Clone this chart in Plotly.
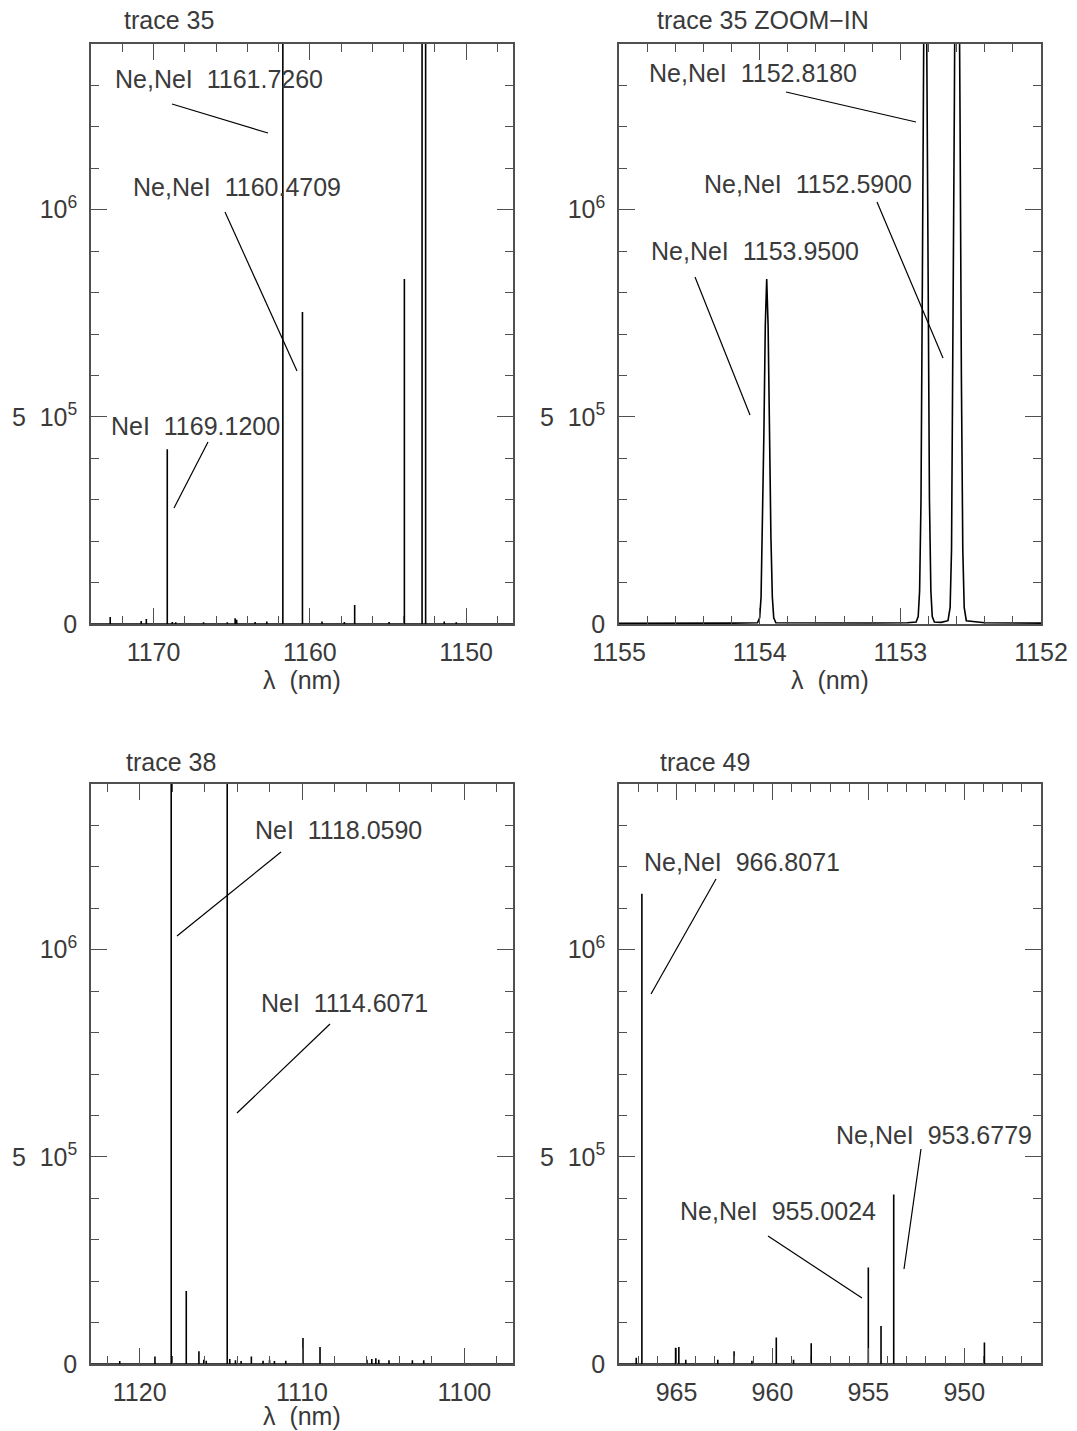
import plotly.graph_objects as go

W, H = 1077, 1431

# ---------------- line lists (wavelength in nm, counts) ----------------
# trace 35, full order
t35_wl = [1172.77, 1170.79, 1170.46, 1169.12, 1168.80, 1168.58, 1166.80, 1165.28,
          1164.78, 1164.68, 1163.50, 1162.75, 1161.726, 1160.4709, 1159.22, 1157.79,
          1157.13, 1154.93, 1153.95, 1152.818, 1152.59, 1151.40, 1150.63]
t35_flux = [1.7e4, 7e3, 1.2e4, 4.22e5, 5e3, 4e3, 4e3, 4e3,
            1.4e4, 1.0e4, 5e3, 6e3, 2.6e6, 7.53e5, 6e3, 5e3,
            4.6e4, 5e3, 8.33e5, 1.7e6, 2.35e6, 6e3, 4e3]

# trace 35, zoom on the 1152-1155 nm region (sampled line profiles)
zoom_wl = [1155.00, 1154.60, 1154.20, 1154.015, 1154.00, 1153.99, 1153.98, 1153.97,
           1153.96, 1153.95, 1153.94, 1153.93, 1153.92, 1153.91, 1153.90, 1153.885,
           1153.60, 1153.20, 1152.95, 1152.888, 1152.873, 1152.863, 1152.853, 1152.843,
           1152.833, 1152.823, 1152.813, 1152.803, 1152.793, 1152.783, 1152.773,
           1152.758, 1152.71, 1152.661, 1152.646, 1152.636, 1152.626, 1152.616,
           1152.606, 1152.596, 1152.586, 1152.576, 1152.566, 1152.556, 1152.546,
           1152.531, 1152.40, 1152.20, 1152.00]
zoom_flux = [1.5e3, 1.5e3, 2e3, 3e3, 1.5e4, 6.5e4, 2.1e5, 4.6e5,
             7.2e5, 8.33e5, 7.2e5, 4.6e5, 2.1e5, 6.5e4, 1.5e4, 3e3,
             2e3, 2.5e3, 3e3, 5e3, 1.8e4, 8e4, 3.0e5, 8.5e5,
             1.45e6, 1.7e6, 1.45e6, 8.5e5, 3.0e5, 8e4, 1.8e4,
             5e3, 4e3, 8e3, 4e4, 1.8e5, 6.0e5, 1.25e6,
             1.9e6, 2.35e6, 1.9e6, 1.25e6, 6.0e5, 1.8e5, 4e4,
             8e3, 3e3, 2.5e3, 2e3]

# trace 38
t38_wl = [1121.23, 1119.06, 1118.059, 1117.13, 1116.35, 1116.05, 1115.90, 1114.6071,
          1114.45, 1114.10, 1113.75, 1113.12, 1112.40, 1112.00, 1111.70, 1111.00,
          1109.94, 1108.89, 1106.00, 1105.70, 1105.45, 1105.27, 1104.64, 1103.20, 1102.50]
t38_flux = [7e3, 1.8e4, 2.8e6, 1.76e5, 3.1e4, 1e4, 8e3, 2.6e6,
            1.2e4, 9e3, 7e3, 1.8e4, 8e3, 1e4, 7e3, 8e3,
            6.3e4, 4.1e4, 1e4, 1.2e4, 1.4e4, 1e4, 9e3, 9e3, 9e3]

# trace 49
t49_wl = [967.10, 966.8071, 965.05, 964.88, 964.52, 962.85, 962.00, 961.07,
          959.80, 958.90, 957.98, 955.0024, 954.34, 953.6779, 948.95]
t49_flux = [1.5e4, 1.135e6, 3.9e4, 4.1e4, 1e4, 1e4, 3.1e4, 8e3,
            6.4e4, 1e4, 5e4, 2.33e5, 9.2e4, 4.09e5, 5.2e4]

# axis ranges (nm)
t35_range = [1174, 1147]
zoom_range = [1155, 1152]
t38_range = [1123, 1097]
t49_range = [968, 946]

y_tickvals = [0, 5e5, 1e6]
y_ticktext = ["0", "5\u00a0\u00a010<sup>5</sup>", "10<sup>6</sup>"]

FONT = "Liberation Sans"
TXT = "#3a3a3a"
AX = "#505050"


def spikes(wl, fl, rng):
    """Emission lines as vertical strokes on a zero baseline."""
    lo, hi = min(rng), max(rng)
    xs, ys = [lo], [0.0]
    for w, f in sorted(zip(wl, fl)):
        xs += [w, w, w]
        ys += [0.0, f, 0.0]
    xs.append(hi)
    ys.append(0.0)
    return xs, ys


def px(x):
    return x / W


def py(y):
    return 1 - y / H


fig = go.Figure()

panels = [
    dict(xs=spikes(t35_wl, t35_flux, t35_range), ax="x", ay="y",
         xd=(91, 513), yd=(44, 624), rng=t35_range, t0=1150, dt=10, mdt=2),
    dict(xs=(sorted(zoom_wl), [f for _, f in sorted(zip(zoom_wl, zoom_flux))]),
         ax="x2", ay="y2", xd=(619, 1041), yd=(44, 624), rng=zoom_range,
         t0=1152, dt=1, mdt=0.2),
    dict(xs=spikes(t38_wl, t38_flux, t38_range), ax="x3", ay="y3",
         xd=(91, 513), yd=(784, 1364), rng=t38_range, t0=1100, dt=10, mdt=2),
    dict(xs=spikes(t49_wl, t49_flux, t49_range), ax="x4", ay="y4",
         xd=(619, 1041), yd=(784, 1364), rng=t49_range, t0=950, dt=5, mdt=1),
]

axis_common = dict(
    showline=True, linecolor=AX, linewidth=1.5, mirror="allticks",
    ticks="inside", ticklen=16, tickwidth=1.4, tickcolor=AX,
    showgrid=False, zeroline=False, automargin=False,
    tickfont=dict(family=FONT, size=25, color=TXT),
)

layout_axes = {}
for i, p in enumerate(panels):
    x, y = p["xs"]
    fig.add_trace(go.Scatter(x=x, y=y, mode="lines", xaxis=p["ax"], yaxis=p["ay"],
                             line=dict(color="black", width=1.6),
                             hoverinfo="skip", showlegend=False))
    sfx = "" if i == 0 else str(i + 1)
    layout_axes["xaxis" + sfx] = dict(
        axis_common,
        domain=[px(p["xd"][0]), px(p["xd"][1])],
        anchor="y" + sfx,
        range=p["rng"], autorange=False,
        tickmode="linear", tick0=p["t0"], dtick=p["dt"],
        ticklabelstandoff=5,
        minor=dict(ticks="inside", ticklen=8, tickwidth=1.4, tickcolor=AX,
                   tick0=p["t0"], dtick=p["mdt"], showgrid=False),
    )
    layout_axes["yaxis" + sfx] = dict(
        axis_common,
        domain=[py(p["yd"][1]), py(p["yd"][0])],
        anchor="x" + sfx,
        range=[0, 1.4e6], autorange=False,
        tickmode="array", tickvals=y_tickvals, ticktext=y_ticktext,
        ticklabelstandoff=7,
        minor=dict(ticks="inside", ticklen=8, tickwidth=1.4, tickcolor=AX,
                   tickmode="linear", tick0=0, dtick=1e5, showgrid=False),
    )

annotations = []
shapes = []


def label(text, x, y, anchor="left"):
    annotations.append(dict(text=text, x=px(x), y=py(y), xref="paper", yref="paper",
                            xanchor=anchor, yanchor="middle", showarrow=False,
                            font=dict(family=FONT, size=25, color=TXT)))


def leader(x0, y0, x1, y1):
    shapes.append(dict(type="line", xref="paper", yref="paper",
                       x0=px(x0), y0=py(y0), x1=px(x1), y1=py(y1),
                       line=dict(color="black", width=1.2)))


NB = "\u00a0\u00a0"

# panel titles
label("trace 35", 122, 20)
label("trace 35 ZOOM\u2212IN", 655, 20)
label("trace 38", 124, 762)
label("trace 49", 658, 762)

# axis titles
label("\u03bb  (nm)", 302, 680, anchor="center")
label("\u03bb  (nm)", 830, 680, anchor="center")
label("\u03bb  (nm)", 302, 1416, anchor="center")

# line identifications, trace 35
label("Ne,NeI" + NB + "1161.7260", 113, 79)
leader(172, 104, 268, 133)
label("Ne,NeI" + NB + "1160.4709", 131, 187)
leader(225, 212, 297, 371)
label("NeI" + NB + "1169.1200", 109, 426)
leader(208, 442, 174, 508)

# trace 35 zoom-in
label("Ne,NeI" + NB + "1152.8180", 647, 73)
leader(786, 92, 916, 122)
label("Ne,NeI" + NB + "1152.5900", 702, 184)
leader(877, 202, 943, 358)
label("Ne,NeI" + NB + "1153.9500", 649, 251)
leader(695, 277, 750, 415)

# trace 38
label("NeI" + NB + "1118.0590", 253, 830)
leader(281, 852, 177, 936)
label("NeI" + NB + "1114.6071", 259, 1003)
leader(330, 1024, 237, 1113)

# trace 49
label("Ne,NeI" + NB + "966.8071", 642, 862)
leader(716, 879, 651, 994)
label("Ne,NeI" + NB + "955.0024", 678, 1211)
leader(768, 1236, 862, 1298)
label("Ne,NeI" + NB + "953.6779", 834, 1135)
leader(921, 1149, 904, 1269)

fig.update_layout(
    width=W, height=H,
    margin=dict(l=0, r=0, t=0, b=0),
    paper_bgcolor="white", plot_bgcolor="white",
    showlegend=False,
    annotations=annotations,
    shapes=shapes,
    **layout_axes,
)

fig.write_html("out.html")
